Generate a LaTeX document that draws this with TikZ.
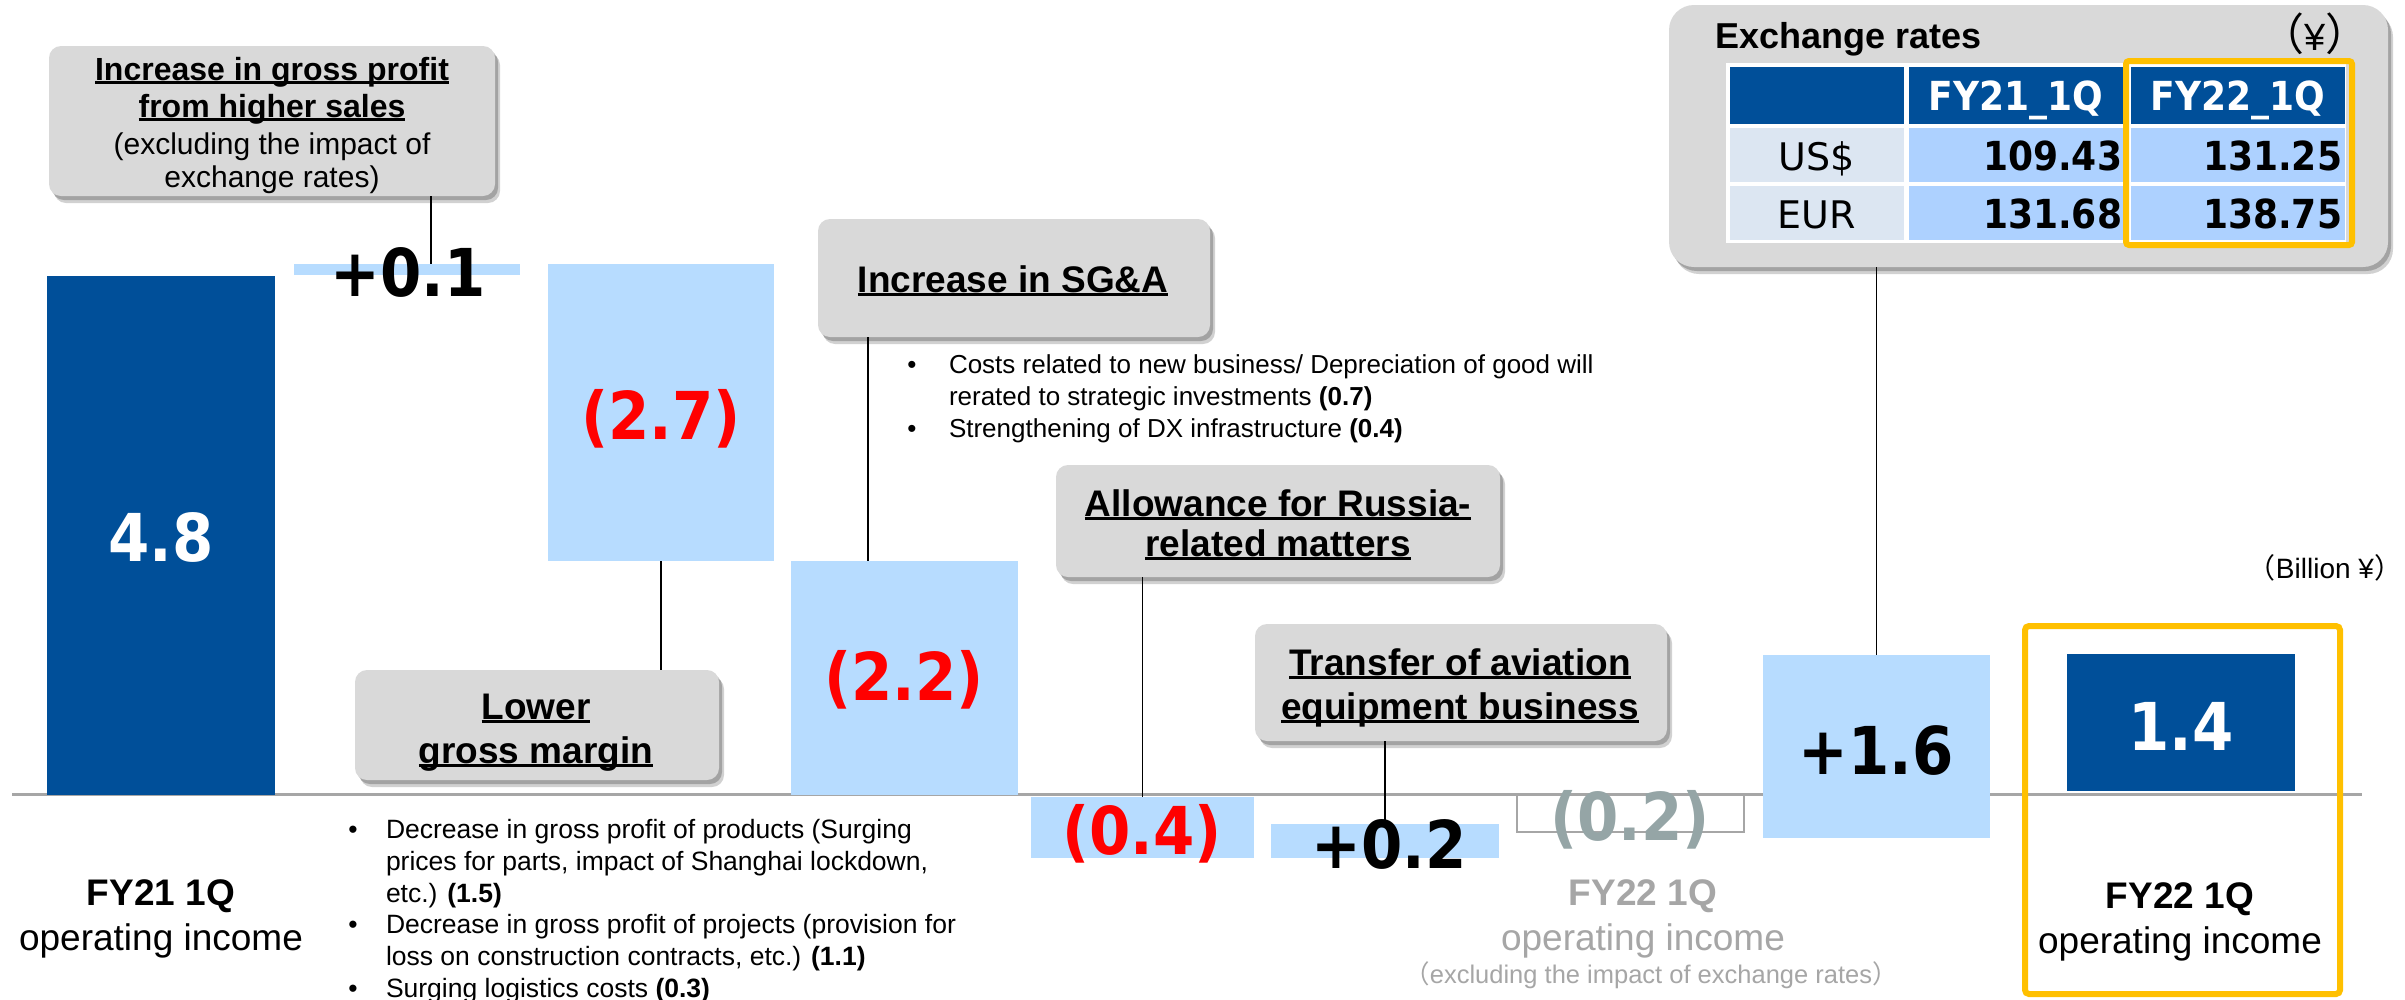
\documentclass[tikz,border=0pt]{standalone}
\usepackage{fontspec}
\setmainfont{Liberation Sans}
\newfontfamily\vfont{DejaVu Sans}
\newfontfamily\cjkf{Noto Sans CJK JP}
\usetikzlibrary{shadows}
\definecolor{dblue}{RGB}{0,79,153}
\definecolor{lblue}{RGB}{183,220,255}
\definecolor{cgrey}{RGB}{217,217,217}
\definecolor{axisgrey}{RGB}{166,166,166}
\definecolor{ygold}{RGB}{255,192,0}
\definecolor{vgrey}{RGB}{149,165,166}
\definecolor{tgrey}{RGB}{166,166,166}
\definecolor{rowgrey}{RGB}{220,230,242}
\definecolor{cellblue}{RGB}{173,209,255}
\newcommand\fs[1]{\fontsize{#1}{#1}\selectfont}
\newcommand\myul[1]{\setbox0\hbox{#1}\rlap{\rule[-0.11em]{\wd0}{0.07em}}\box0}
\newcommand\val[1]{\scalebox{0.9}[1]{\vfont\bfseries\fs{66}#1}}
\newcommand\tval[1]{\scalebox{0.9}[1]{\vfont\bfseries\fs{40}#1}}
\begin{document}
\begin{tikzpicture}[x=1pt,y=-1pt,
  txt/.style={inner sep=0pt, outer sep=0pt},
  barbox/.style={inner sep=0pt, outer sep=0pt, anchor=north west, draw=none},
  callout/.style={fill=cgrey, rounded corners=12pt, inner sep=0pt, outer sep=0pt, anchor=north west,
    drop shadow={shadow xshift=5pt, shadow yshift=-7pt, opacity=0.18, fill=black},
    drop shadow={shadow xshift=3pt, shadow yshift=-4pt, opacity=0.22, fill=black}},
  conn/.style={draw=black, line width=1.6pt},
  val/.style={txt, anchor=base},
  cell/.style={inner sep=0pt, outer sep=0pt, anchor=north west, draw=none}
]
\useasboundingbox (0,0) rectangle (2405,999);
\fill[white] (0,0) rectangle (2405,999);

% axis
\coordinate (ax1) at (12,794);
\coordinate (ax2) at (2362,794);
\draw[axisgrey, line width=3pt] (ax1) -- (ax2);

% bars
\node[barbox, fill=dblue, minimum width=228pt, minimum height=519pt] (b0) at (47,276) {};
\node[barbox, fill=lblue, minimum width=226pt, minimum height=11pt] (b1) at (294,264) {};
\node[barbox, fill=lblue, minimum width=226pt, minimum height=297pt] (b2) at (548,264) {};
\node[barbox, fill=lblue, minimum width=227pt, minimum height=234pt] (b3) at (791,561) {};
\node[barbox, fill=lblue, minimum width=223pt, minimum height=61pt] (b4) at (1031,797) {};
\node[barbox, fill=lblue, minimum width=228pt, minimum height=34pt] (b5) at (1271,824) {};
\node[barbox, fill=white, draw=axisgrey, line width=2pt, minimum width=227pt, minimum height=37pt] (b6) at (1517,795) {};
\node[barbox, fill=lblue, minimum width=227pt, minimum height=183pt] (b7) at (1763,655) {};
\node[barbox, fill=dblue, minimum width=228pt, minimum height=137pt] (b8) at (2067,654) {};
\node[barbox, draw=ygold, line width=6pt, rounded corners=4pt, minimum width=315pt, minimum height=368pt] (yb) at (2025,626) {};

% callouts
\node[callout, minimum width=446pt, minimum height=150pt] (c1) at (49,46) {};
\node[callout, minimum width=364pt, minimum height=110pt] (c2) at (355,670) {};
\node[callout, minimum width=392pt, minimum height=118pt] (c3) at (818,219) {};
\node[callout, minimum width=444pt, minimum height=112pt] (c4) at (1056,465) {};
\node[callout, minimum width=412pt, minimum height=117pt] (c5) at (1255,624) {};
\node[callout, rounded corners=25pt, minimum width=719pt, minimum height=262pt] (c6) at (1669,5) {};

% connectors
\coordinate (k1) at (431,264);
\coordinate (k3) at (868,561);
\draw[conn] (c1.south -| k1) -- (k1);
\draw[conn] (b2.south) -- (c2.north -| b2.south);
\draw[conn] (c3.south -| k3) -- (k3);
\draw[conn] (c4.south -| b4.north) -- (b4.north);
\draw[conn] (c5.south -| b5.north) -- (b5.north);
\draw[conn] (c6.south -| b7.north) -- (b7.north);

% callout texts
\node[txt, anchor=base] (t1a) at (272,80) {\fs{32}\bfseries\myul{Increase in gross profit}};
\node[txt, anchor=base] (t1b) at (272,117) {\fs{32}\bfseries\myul{from higher sales}};
\node[txt, anchor=base] (t1c) at (272,154) {\fs{30}(excluding the impact of};
\node[txt, anchor=base] (t1d) at (272,187) {\fs{30}exchange rates)};
\node[txt, anchor=base] (t2a) at (536,719) {\fs{37}\bfseries\myul{Lower}};
\node[txt, anchor=base] (t2b) at (536,763) {\fs{37}\bfseries\myul{gross margin}};
\node[txt, anchor=base] (t3a) at (1013,292) {\fs{37}\bfseries\myul{Increase in SG\&A}};
\node[txt, anchor=base] (t4a) at (1278,516) {\fs{37}\bfseries\myul{Allowance for Russia-}};
\node[txt, anchor=base] (t4b) at (1278,556) {\fs{37}\bfseries\myul{related matters}};
\node[txt, anchor=base] (t5a) at (1460,675) {\fs{37}\bfseries\myul{Transfer of aviation}};
\node[txt, anchor=base] (t5b) at (1460,719) {\fs{37}\bfseries\myul{equipment business}};

% exchange rates table
\node[txt, anchor=base west] (xt) at (1715,48) {\fs{36}\bfseries Exchange rates};
\node[txt, anchor=base] (xy) at (2315,50) {{\cjkf\fs{44}（}{\fs{38}¥}{\cjkf\fs{44}）}};
\node[cell, fill=white, minimum width=620pt, minimum height=180pt] (tb) at (1726,63) {};
\node[cell, fill=dblue, minimum width=174pt, minimum height=57pt] (h0) at (1730,67) {};
\node[cell, fill=dblue, minimum width=215pt, minimum height=57pt] (h1) at (1909,67) {};
\node[cell, fill=dblue, minimum width=214pt, minimum height=57pt] (h2) at (2131,67) {};
\node[cell, fill=rowgrey, minimum width=174pt, minimum height=54pt] (r1c0) at (1730,128) {};
\node[cell, fill=cellblue, minimum width=215pt, minimum height=54pt] (r1c1) at (1909,128) {};
\node[cell, fill=cellblue, minimum width=214pt, minimum height=54pt] (r1c2) at (2131,128) {};
\node[cell, fill=rowgrey, minimum width=174pt, minimum height=54pt] (r2c0) at (1730,186) {};
\node[cell, fill=cellblue, minimum width=215pt, minimum height=54pt] (r2c1) at (1909,186) {};
\node[cell, fill=cellblue, minimum width=214pt, minimum height=54pt] (r2c2) at (2131,186) {};
\node[txt, anchor=base, text=white] (th1) at (2016,110) {\tval{FY21\_1Q}};
\node[txt, anchor=base, text=white] (th2) at (2238,110) {\tval{FY22\_1Q}};
\node[txt, anchor=base] (tu) at (1817,170) {\vfont\fs{38}US\$};
\node[txt, anchor=base] (te) at (1817,228) {\vfont\fs{38}EUR};
\node[txt, anchor=base east] (tv1) at (2122,170) {\tval{109.43}};
\node[txt, anchor=base east] (tv2) at (2342,170) {\tval{131.25}};
\node[txt, anchor=base east] (tv3) at (2122,228) {\tval{131.68}};
\node[txt, anchor=base east] (tv4) at (2342,228) {\tval{138.75}};
\node[barbox, draw=ygold, line width=6pt, rounded corners=3pt, minimum width=226pt, minimum height=184pt] (hl) at (2126,61) {};

% bullet texts SG&A
\node[txt, anchor=base] (s0) at (912,373) {\fs{26}•};
\node[txt, anchor=base west] (s1) at (949,373) {\fs{26}Costs related to new business/ Depreciation of good will};
\node[txt, anchor=base west] (s2) at (949,405) {\fs{26}rerated to strategic investments \textbf{(0.7)}};
\node[txt, anchor=base] (s3) at (912,437) {\fs{26}•};
\node[txt, anchor=base west] (s4) at (949,437) {\fs{26}Strengthening of DX infrastructure \textbf{(0.4)}};

% bullet texts gross margin
\node[txt, anchor=base] (g0) at (353,838) {\fs{26.5}•};
\node[txt, anchor=base west] (g1) at (386,838) {\fs{26.5}Decrease in gross profit of products (Surging};
\node[txt, anchor=base west] (g2) at (386,870) {\fs{26.5}prices for parts, impact of Shanghai lockdown,};
\node[txt, anchor=base west] (g3) at (386,902) {\fs{26.5}etc.) \textbf{(1.5)}};
\node[txt, anchor=base] (g4) at (353,933) {\fs{26.5}•};
\node[txt, anchor=base west] (g5) at (386,933) {\fs{26.5}Decrease in gross profit of projects (provision for};
\node[txt, anchor=base west] (g6) at (386,965) {\fs{26.5}loss on construction contracts, etc.) \textbf{(1.1)}};
\node[txt, anchor=base] (g7) at (353,997) {\fs{26.5}•};
\node[txt, anchor=base west] (g8) at (386,997) {\fs{26.5}Surging logistics costs \textbf{(0.3)}};

% values
\node[val, text=white] (v0) at (161,561) {\val{4.8}};
\node[val] (v1) at (408,296) {\val{+0.1}};
\node[val, text=red] (v2) at (661,439) {\val{(2.7)}};
\node[val, text=red] (v3) at (904,700) {\val{(2.2)}};
\node[val, text=red] (v4) at (1142,854) {\val{(0.4)}};
\node[val] (v5) at (1389,868) {\val{+0.2}};
\node[val, text=vgrey] (v6) at (1630,840) {\val{(0.2)}};
\node[val] (v7) at (1876,774) {\val{+1.6}};
\node[val, text=white] (v8) at (2181,750) {\val{1.4}};

% bottom labels
\node[txt, anchor=base] (l1a) at (161,905) {\fs{37}\bfseries FY21 1Q};
\node[txt, anchor=base] (l1b) at (161,950) {\fs{37}operating income};
\node[txt, anchor=base, text=tgrey] (l2a) at (1643,905) {\fs{37}\bfseries FY22 1Q};
\node[txt, anchor=base, text=tgrey] (l2b) at (1643,950) {\fs{37}operating income};
\node[txt, anchor=base, text=tgrey] (l2c) at (1651,983) {\fs{25.5}{\cjkf （}excluding the impact of exchange rates{\cjkf ）}};
\node[txt, anchor=base] (l3a) at (2180,908) {\fs{37}\bfseries FY22 1Q};
\node[txt, anchor=base] (l3b) at (2180,953) {\fs{37}operating income};
\node[txt, anchor=base east] (unit) at (2402,578) {\fs{28}{\cjkf （}Billion ¥{\cjkf ）}};
\end{tikzpicture}
\end{document}
